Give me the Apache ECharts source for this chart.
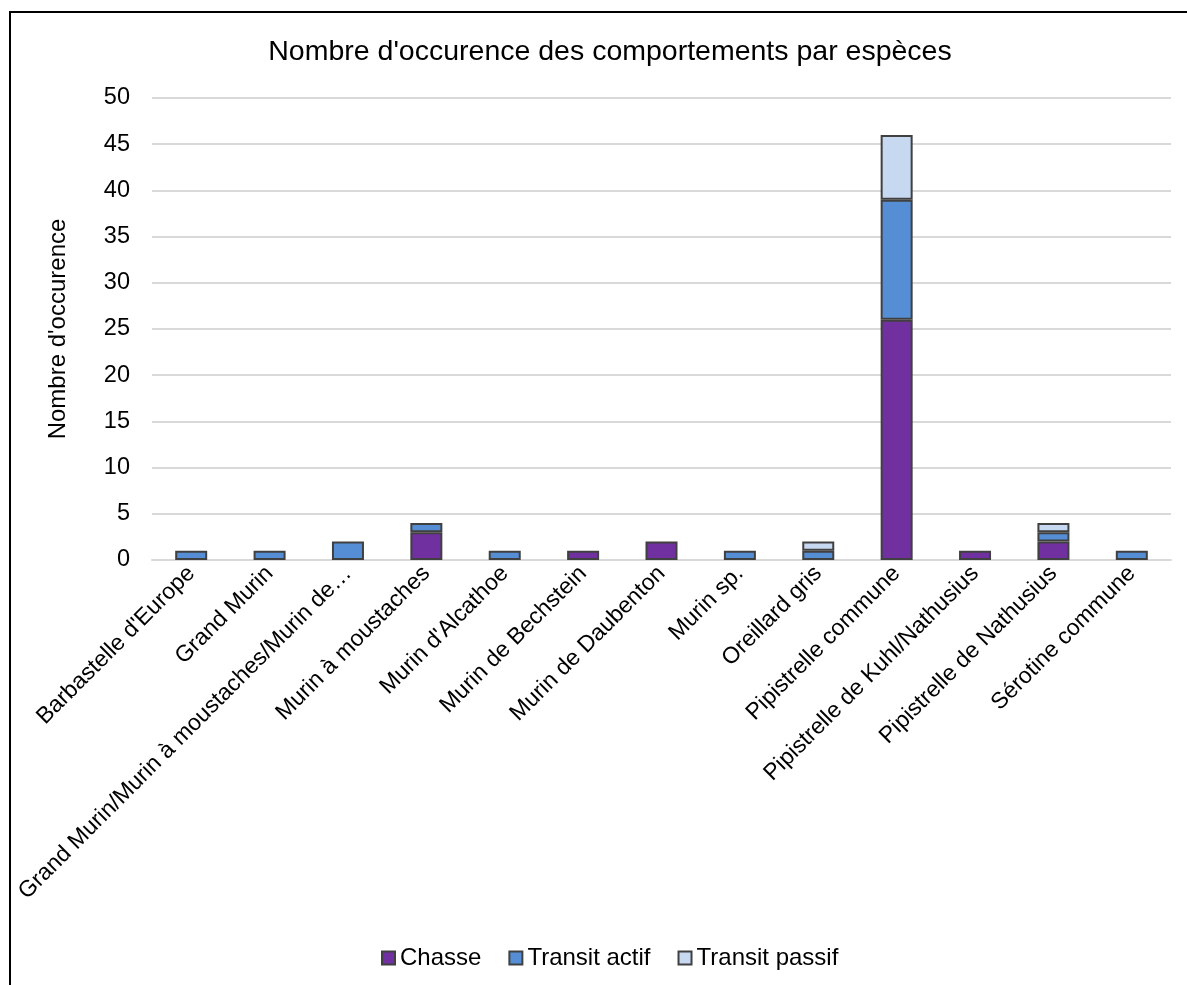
<!DOCTYPE html>
<html>
<head>
<meta charset="utf-8">
<script src="https://cdn.jsdelivr.net/npm/echarts@6/dist/echarts.min.js"></script>
<style>
html,body{margin:0;padding:0;background:#fff;overflow:hidden;}
#frame{position:absolute;left:9px;top:11px;width:1400px;height:1200px;border-left:2px solid #000;border-top:2px solid #000;}
#chart{position:absolute;left:0;top:0;width:1187px;height:985px;}
</style>
</head>
<body>
<div id="frame"></div>
<div id="chart"></div>
<script>
const categories = ["Barbastelle d'Europe","Grand Murin","Grand Murin/Murin à moustaches/Murin de…","Murin à moustaches","Murin d'Alcathoe","Murin de Bechstein","Murin de Daubenton","Murin sp.","Oreillard gris","Pipistrelle commune","Pipistrelle de Kuhl/Nathusius","Pipistrelle de Nathusius","Sérotine commune"];
const chasse =        [0,0,0,3,0,1,2,0,0,26,1,2,0];
const transitActif =  [1,1,2,1,1,0,0,1,1,13,0,1,1];
const transitPassif = [0,0,0,0,0,0,0,0,1,7,0,1,0];
const seriesNames = ["Chasse","Transit actif","Transit passif"];
const colors = ["#7030A0","#558ED5","#C6D9F1"];

const chart = echarts.init(document.getElementById('chart'), null, {renderer:'canvas'});
const font = 'Liberation Sans, Arial, sans-serif';
function mk(name, data, color){
  return {
    name, type:'bar', stack:'total', data: data.map(v => v === 0 ? null : v),
    barWidth: 32,
    itemStyle:{color, borderColor:'#404040', borderWidth:2},
    emphasis:{disabled:true}
  };
}
chart.setOption({
  animation:false,
  textStyle:{fontFamily:font},
  title:{text:"Nombre d'occurence des comportements par espèces", left:605, top:33, textAlign:'center',
    textStyle:{fontSize:28.5, fontWeight:'normal', color:'#000', fontFamily:font}},
  legend:{top:941, left:376, itemWidth:13, itemHeight:13, itemGap:27,
    textStyle:{fontSize:24, color:'#000', fontFamily:font},
    data: seriesNames.map((n,i)=>({name:n, icon:'rect', itemStyle:{color:colors[i], borderColor:'#404040', borderWidth:2}}))},
  grid:{left:152, right:16, top:98, bottom:425, containLabel:false},
  xAxis:{type:'category', data:categories,
    axisLine:{show:true, lineStyle:{color:'#d9d9d9', width:2}},
    axisTick:{show:false},
    axisLabel:{rotate:45, interval:0, fontSize:23, color:'#000', fontFamily:font, margin:10}},
  yAxis:{type:'value', min:0, max:50, interval:5,
    name:"Nombre d'occurence", nameLocation:'middle', nameGap:82, nameRotate:90,
    nameTextStyle:{fontSize:24, color:'#000', fontFamily:font},
    axisLine:{show:false}, axisTick:{show:false},
    axisLabel:{fontSize:23.5, color:'#000', fontFamily:font, margin:22},
    splitLine:{lineStyle:{color:'#d9d9d9', width:2}}},
  series:[mk(seriesNames[0], chasse, colors[0]), mk(seriesNames[1], transitActif, colors[1]), mk(seriesNames[2], transitPassif, colors[2])]
});
</script>
</body>
</html>
